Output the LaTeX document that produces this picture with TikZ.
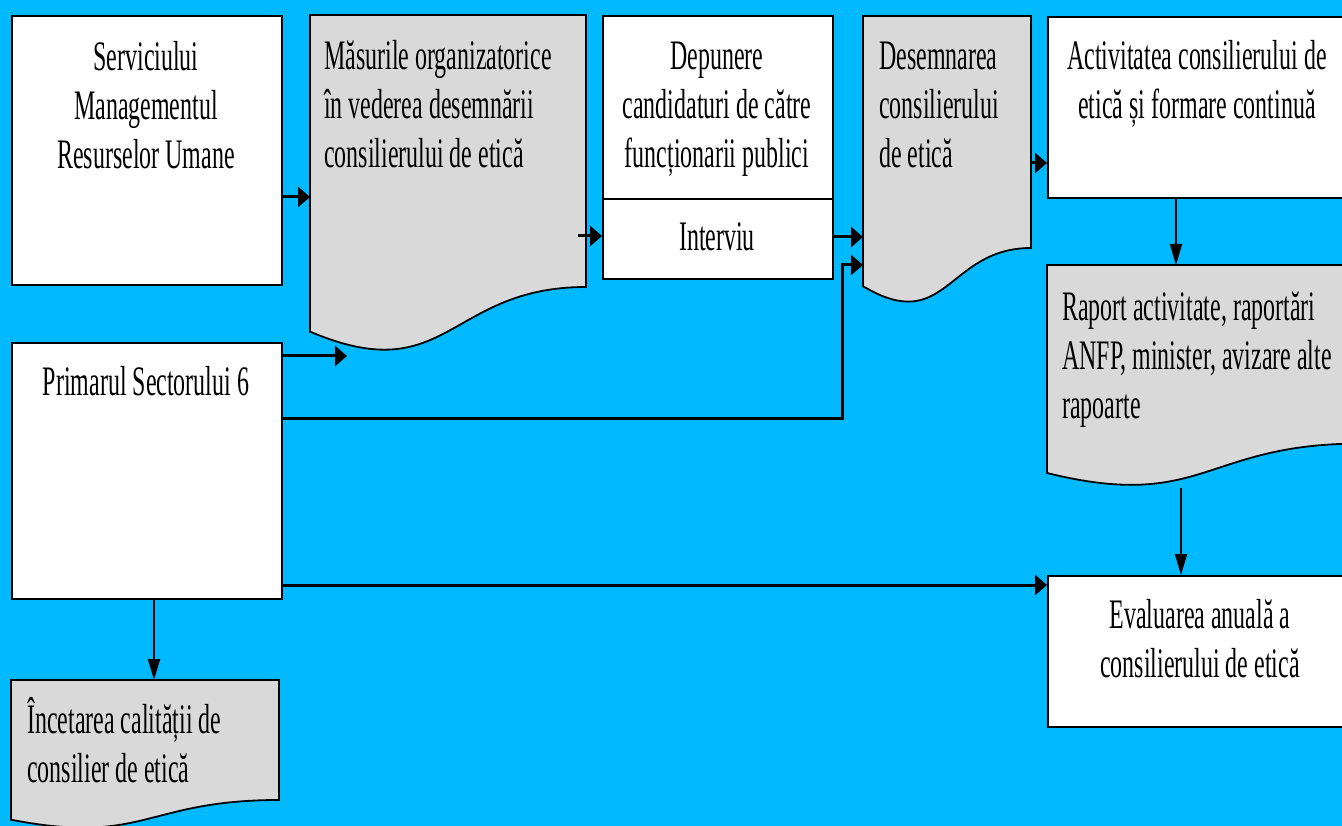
\documentclass[tikz,border=0pt]{standalone}
\usepackage{fontspec}
\setmainfont{Liberation Serif}[FakeStretch=0.57]
\usetikzlibrary{arrows.meta}
\definecolor{bgblue}{RGB}{0,185,255}
\definecolor{docgray}{RGB}{217,217,217}
\newcommand\fs{\rule{0pt}{40pt}}
\begin{document}
\begin{tikzpicture}[x=1pt,y=-1pt,
  box/.style={draw=black, line width=1.8pt, fill=white, inner sep=0pt, anchor=north west},
  anch/.style={inner sep=0pt, anchor=north west},
  doc/.style={draw=black, line width=1.8pt, fill=docgray},
  txt/.style={inner sep=0pt, font=\fontsize{42}{49}\selectfont},
  harr/.style={line width=3pt, -{Triangle[length=12pt,width=20pt]}},
  varr/.style={line width=1.8pt, -{Triangle[length=21pt,width=12pt]}},
]
\useasboundingbox (0,0) rectangle (1342,826);
\clip (0,0) rectangle (1342,826);
\fill[bgblue] (0,0) rectangle (1342,826);

% document shapes
\draw[doc] (310,15) -- (586,15) -- (586,287) .. controls (448,287) and (448,390.4) .. (310,331.6) -- cycle;
\draw[doc] (863,16) -- (1031,16) -- (1031,248) .. controls (947,248) and (947,336.4) .. (863,286.2) -- cycle;
\draw[doc] (1047,265) -- (1360,265) -- (1360,443.6) .. controls (1203.5,443.6) and (1203.5,511.6) .. (1047,473) -- cycle;
\draw[doc] (11,680) -- (279,680) -- (279,800) .. controls (145,800) and (145,845.7) .. (11,819.7) -- cycle;
\node[anch, minimum width=276pt, minimum height=272pt] (mas) at (310,15) {};
\node[anch, minimum width=168pt, minimum height=232pt] (des) at (863,16) {};
\node[anch, minimum width=313pt, minimum height=178pt] (rap) at (1047,265) {};
\node[anch, minimum width=268pt, minimum height=120pt] (inc) at (11,680) {};

% boxes
\node[box, minimum width=270pt, minimum height=269pt] (serv) at (11,15) {};
\node[box, minimum width=230pt, minimum height=183pt] (dep) at (602,15) {};
\node[box, minimum width=230pt, minimum height=80pt] (int) at (602,198) {};
\node[box, minimum width=313pt, minimum height=181pt] (act) at (1047,16) {};
\node[box, minimum width=270pt, minimum height=256pt] (prim) at (11,342) {};
\node[box, minimum width=313pt, minimum height=151pt] (eva) at (1047,575) {};

% free ends
\coordinate (masin) at (347,356);
\coordinate (rapout) at (1181,488);
\coordinate (bend) at (842,418);

% connectors
\draw[harr] (serv.east |- 0,197) -- (mas.west |- 0,197);
\draw[harr] (prim.east |- 0,356) -- (masin);
\draw[harr] (mas.east |- 0,236) ++(-8,0) -- (int.west |- 0,236);
\draw[harr] (int.east |- 0,237) -- (des.west |- 0,237);
\draw[harr] (prim.east |- 0,418) -- (bend) |- (des.west |- 0,265);
\draw[harr] (des.east |- 0,163) -- (act.west |- 0,163);
\draw[varr] (act.south -| 1176,0) -- (rap.north -| 1176,0);
\draw[varr] (rapout) -- (eva.north -| rapout);
\draw[harr] (prim.east |- 0,585) -- (eva.west |- 0,585);
\draw[varr] (prim.south -| 154,0) -- (inc.north -| 154,0);

% texts
\node[txt, anchor=north, align=center] (servt) at (146,30) {\fs Serviciului\\Managementul\\Resurselor Umane};
\node[txt, anchor=north west, align=left] (mast) at (324,29) {\fs Măsurile organizatorice\\în vederea desemnării\\consilierului de etică};
\node[txt, anchor=north, align=center] (dept) at (717,29) {\fs Depunere\\candidaturi de către\\funcționarii publici};
\node[txt, anchor=north, align=center] (intt) at (717,210) {\fs Interviu};
\node[txt, anchor=north west, align=left] (dest) at (879,29) {\fs Desemnarea\\consilierului\\de etică};
\node[txt, anchor=north, align=center] (actt) at (1197,29) {\fs Activitatea consilierului de\\etică și formare continuă};
\node[txt, anchor=north west, align=left] (rapt) at (1062,280) {\fs Raport activitate, raportări\\ANFP, minister, avizare alte\\rapoarte};
\node[txt, anchor=north, align=center] (primt) at (146,355) {\fs Primarul Sectorului 6};
\node[txt, anchor=north, align=center] (evat) at (1200,588) {\fs Evaluarea anuală a\\consilierului de etică};
\node[txt, anchor=north west, align=left] (inct) at (27,693) {\fs Încetarea calității de\\consilier de etică};
\end{tikzpicture}
\end{document}
